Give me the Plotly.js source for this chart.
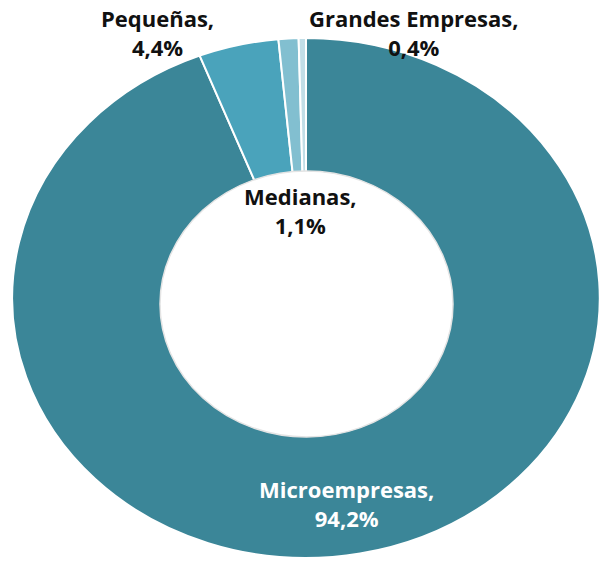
<!DOCTYPE html>
<html>
<head>
<meta charset="utf-8">
<script src="https://cdn.plot.ly/plotly-3.0.1.min.js"></script>
<style>
  html, body { margin: 0; padding: 0; background: #ffffff; }
  #chart { width: 602px; height: 571px; }
</style>
</head>
<body>
<div id="chart"></div>
<script>
const categories = ["Microempresas", "Pequeñas", "Medianas", "Grandes Empresas"];
const shares = [94.2, 4.4, 1.1, 0.4];
const valueLabels = ["94,2%", "4,4%", "1,1%", "0,4%"];

const colors = ["#3B8698", "#4AA3BB", "#82BFD0", "#C2DEE7"];
const labelPos = [
  {x: 347, y: 503, color: "#ffffff"},
  {x: 157, y: 33, color: "#111111"},
  {x: 300, y: 210, color: "#111111"},
  {x: 414, y: 33, color: "#111111"}
];

const W = 602, H = 571;
const trace = {
  type: "pie",
  labels: categories,
  values: shares,
  sort: false,
  direction: "clockwise",
  rotation: 0,
  hole: 0.45,
  textinfo: "none",
  hoverinfo: "none",
  marker: { colors: colors, line: { color: "#ffffff", width: 2 } },
  domain: { x: [0.0764, 0.9402], y: [0.0228, 0.9334] },
  showlegend: false
};

const annotations = categories.map((c, i) => ({
  text: c + ",<br>" + valueLabels[i],
  x: labelPos[i].x / W,
  y: 1 - labelPos[i].y / H,
  xref: "paper", yref: "paper",
  xanchor: "center", yanchor: "middle",
  showarrow: false,
  align: "center",
  font: { family: "Open Sans, sans-serif", size: 22, color: labelPos[i].color, weight: 700 }
}));

// elliptical hole of the doughnut (slightly offset downward, as in the reference)
const hole = { x0: 160, x1: 453, y0: 171, y1: 437 };

const layout = {
  width: W, height: H,
  margin: { l: 0, r: 0, t: 0, b: 0 },
  paper_bgcolor: "#ffffff",
  plot_bgcolor: "#ffffff",
  annotations: annotations,
  shapes: [{
    type: "circle", xref: "paper", yref: "paper", layer: "above",
    x0: hole.x0 / W, x1: hole.x1 / W,
    y0: 1 - hole.y1 / H, y1: 1 - hole.y0 / H,
    fillcolor: "#ffffff",
    line: { color: "#e4e4e4", width: 1.5 }
  }],
  showlegend: false
};

Plotly.newPlot("chart", [trace], layout, { staticPlot: true, displayModeBar: false }).then(() => {
  // Reference donut is stretched horizontally (elliptical); scale slices around their centre.
  const tr = document.querySelector("#chart .pielayer g.trace");
  if (tr) {
    const bb = tr.getBBox();
    const cx = bb.x + bb.width / 2;
    const sx = 1.13;
    tr.setAttribute("transform", `translate(${cx},0) scale(${sx},1) translate(${-cx},0)`);
    tr.querySelectorAll("path").forEach(p => p.setAttribute("vector-effect", "non-scaling-stroke"));
  }
});
</script>
</body>
</html>
